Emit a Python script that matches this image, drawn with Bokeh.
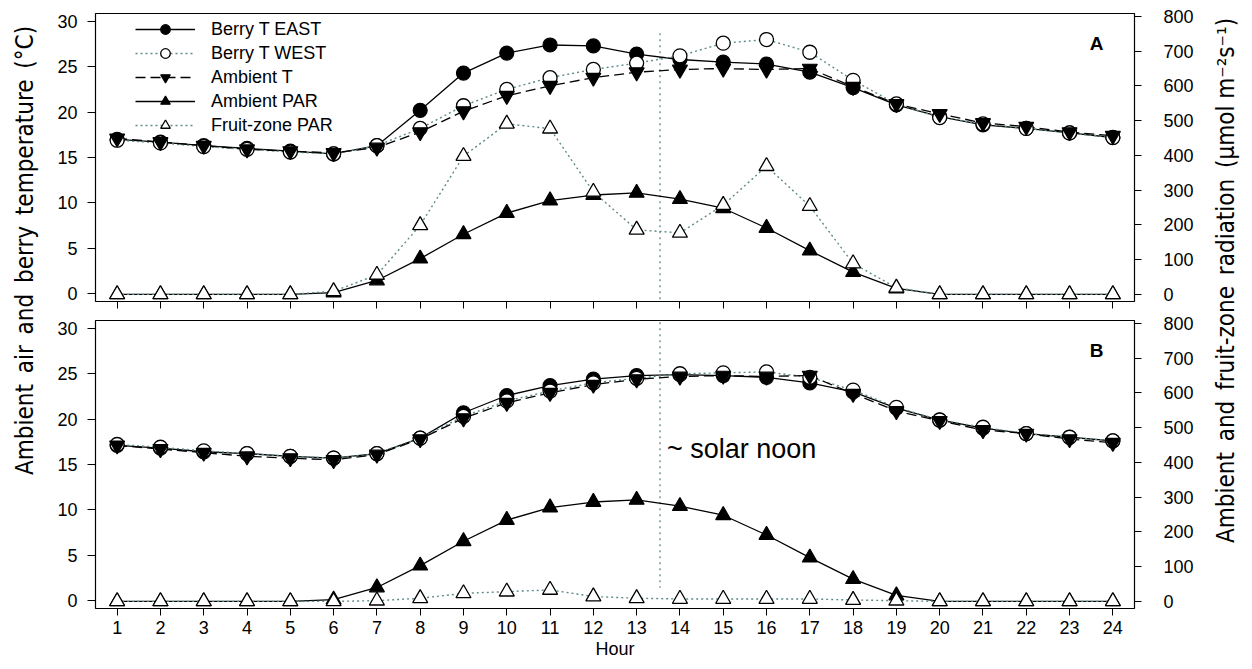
import math
from bokeh.plotting import figure
from bokeh.models import (Range1d, LinearAxis, FixedTicker, Legend, LegendItem, Label,
                          CustomLabelingPolicy)
from bokeh.layouts import row, column
from bokeh.embed import file_html
from bokeh.resources import INLINE

# ---------------- data ----------------
hours = list(range(1, 25))

# Panel A
a_east_t = [17.0, 16.7, 16.3, 16.0, 15.7, 15.4, 16.3, 20.2, 24.3, 26.5, 27.4, 27.3, 26.4, 25.8,
            25.5, 25.3, 24.4, 22.7, 20.8, 19.5, 18.6, 18.2, 17.7, 17.2]
a_west_t = [16.9, 16.6, 16.2, 15.9, 15.6, 15.4, 16.3, 18.2, 20.7, 22.5, 23.8, 24.7, 25.4, 26.2,
            27.6, 28.0, 26.6, 23.5, 20.9, 19.4, 18.7, 18.2, 17.7, 17.2]
ambient_t = [17.1, 16.7, 16.3, 15.9, 15.7, 15.5, 16.1, 17.8, 20.1, 21.8, 22.9, 23.8, 24.4, 24.7,
             24.8, 24.7, 24.8, 22.8, 20.9, 19.8, 18.8, 18.4, 17.8, 17.4]
ambient_par = [0, 0, 0, 0, 0, 5, 40, 103, 173, 234, 270, 286, 292, 274, 248, 191, 126, 64, 17,
               0, 0, 0, 0, 0]
a_fruit_par = [0, 0, 0, 0, 0, 9, 56, 199, 398, 491, 477, 295, 186, 177, 257, 369, 254, 89, 19,
               0, 0, 0, 0, 0]

# Panel B
b_east_t = [17.1, 16.8, 16.4, 16.2, 15.9, 15.7, 16.2, 17.9, 20.7, 22.6, 23.7, 24.4, 24.8, 24.9,
            24.8, 24.6, 24.0, 23.0, 21.2, 19.9, 19.0, 18.4, 18.0, 17.6]
b_west_t = [17.2, 16.9, 16.5, 16.2, 15.9, 15.7, 16.2, 17.9, 20.3, 22.0, 23.1, 24.0, 24.5, 25.0,
            25.1, 25.2, 24.6, 23.2, 21.3, 19.9, 19.1, 18.4, 18.0, 17.6]
b_fruit_par = [0, 0, 0, 0, 0, 0, 2, 9, 23, 28, 33, 14, 9, 7, 7, 7, 7, 4, 2, 0, 0, 0, 0, 0]

temp_ticks = [0, 5, 10, 15, 20, 25, 30]
par_ticks = [0, 100, 200, 300, 400, 500, 600, 700, 800]
solar_noon_hour = 13.54

series_labels = ["Berry T EAST", "Berry T WEST", "Ambient T", "Ambient PAR", "Fruit-zone PAR"]

# ---------------- styling ----------------
FONT = "Liberation Sans"
NARROW = "DejaVu Sans Condensed, Liberation Sans"
TEAL = "#5f8a8a"
INK = "black"
PANEL_W = 1152
LABEL_W_L = 48
LABEL_W_R = 52
TOTAL_H = 669


def make_panel(east, west, amb_t, amb_par, fruit_par, letter, height, top, bottom,
               show_x_labels, with_legend, noon_y):
    p = figure(width=PANEL_W, height=height, output_backend="svg", toolbar_location=None,
               x_range=Range1d(0.5, 24.5), y_range=Range1d(-0.88, 30.87),
               min_border_left=47, min_border_right=66, min_border_top=top,
               min_border_bottom=bottom)
    p.extra_y_ranges = {"par": Range1d(-20.5, 808.5)}
    p.grid.visible = False
    p.outline_line_color = INK
    p.outline_line_width = 1.2
    p.background_fill_color = "white"
    p.border_fill_color = "white"

    # x axis
    xa = p.xaxis[0]
    xa.ticker = FixedTicker(ticks=hours)
    xa.axis_line_color = None
    xa.major_tick_in = 0
    xa.major_tick_out = 7
    xa.minor_tick_line_color = None
    xa.major_tick_line_color = INK
    if show_x_labels:
        xa.major_label_text_font = FONT
        xa.major_label_text_font_size = "18px"
        xa.major_label_text_color = INK
        xa.major_label_standoff = 5
        xa.axis_label = "Hour"
        xa.axis_label_text_font = FONT
        xa.axis_label_text_font_size = "18px"
        xa.axis_label_text_color = INK
        xa.axis_label_text_font_style = "normal"
        xa.axis_label_standoff = 2
    else:
        xa.major_label_text_font_size = "0px"
        xa.major_label_standoff = 0
        xa.major_label_policy = CustomLabelingPolicy(
            code="for (const i of indices) indices.unset(i)")

    # left axis
    ya = p.yaxis[0]
    ya.ticker = FixedTicker(ticks=temp_ticks)
    ya.axis_line_color = None
    ya.major_tick_in = 0
    ya.major_tick_out = 8
    ya.minor_tick_line_color = None
    ya.major_tick_line_color = INK
    ya.major_label_text_font = FONT
    ya.major_label_text_font_size = "18px"
    ya.major_label_text_color = INK
    ya.major_label_standoff = 10

    # right axis
    ra = LinearAxis(y_range_name="par", ticker=FixedTicker(ticks=par_ticks))
    ra.axis_line_color = None
    ra.major_tick_in = 0
    ra.major_tick_out = 7
    ra.minor_tick_line_color = None
    ra.major_tick_line_color = INK
    ra.major_label_text_font = FONT
    ra.major_label_text_font_size = "18px"
    ra.major_label_text_color = INK
    ra.major_label_standoff = 22
    p.add_layout(ra, "right")

    # solar noon line
    p.segment(x0=[solar_noon_hour], y0=[noon_y[0]], x1=[solar_noon_hour], y1=[noon_y[1]],
              line_color=TEAL, line_width=1.3, line_dash="2 4")

    # lines
    l_east = p.line(hours, east, line_color=INK, line_width=1.3)
    l_west = p.line(hours, west, line_color=TEAL, line_width=1.4, line_dash="2 3")
    l_amb = p.line(hours, amb_t, line_color=INK, line_width=1.3, line_dash="10 5")
    l_apar = p.line(hours, amb_par, y_range_name="par", line_color=INK, line_width=1.3)
    l_fpar = p.line(hours, fruit_par, y_range_name="par", line_color=TEAL, line_width=1.4,
                    line_dash="2 3")

    # markers
    m_east = p.scatter(hours, east, marker="circle", size=14, fill_color=INK,
                       line_color=INK, line_width=1.2)
    m_west = p.scatter(hours, west, marker="circle", size=14, fill_color="white",
                       line_color=INK, line_width=1.3)
    m_amb = p.scatter(hours, amb_t, marker="inverted_triangle", size=15, fill_color=INK,
                      line_color=INK, line_width=1.2)
    m_apar = p.scatter(hours, amb_par, y_range_name="par", marker="triangle", size=15,
                       fill_color=INK, line_color=INK, line_width=1.2)
    m_fpar = p.scatter(hours, fruit_par, y_range_name="par", marker="triangle", size=15,
                       fill_color="white", line_color=INK, line_width=1.3)

    if with_legend:
        items = [LegendItem(label=series_labels[0], renderers=[l_east, m_east]),
                 LegendItem(label=series_labels[1], renderers=[l_west, m_west]),
                 LegendItem(label=series_labels[2], renderers=[l_amb, m_amb]),
                 LegendItem(label=series_labels[3], renderers=[l_apar, m_apar]),
                 LegendItem(label=series_labels[4], renderers=[l_fpar, m_fpar])]
        leg = Legend(items=items, location=(40, 164), padding=5, spacing=0,
                     label_height=24, glyph_height=24, glyph_width=60, label_standoff=16,
                     label_text_font=FONT, label_text_font_size="18px",
                     label_text_color=INK,
                     background_fill_alpha=0, border_line_color=None)
        p.add_layout(leg, "center")

    p.add_layout(Label(x=1001, y=288 - 30, x_units="screen", y_units="screen",
                       text=letter, text_font=FONT, text_font_size="19px",
                       text_color=INK, text_font_style="bold", text_align="center",
                       text_baseline="middle"))
    return p


pa = make_panel(a_east_t, a_west_t, ambient_t, ambient_par, a_fruit_par, "A",
                height=311, top=13, bottom=10, show_x_labels=False, with_legend=True,
                noon_y=(28.7, -2.0))
pb = make_panel(b_east_t, b_west_t, ambient_t, ambient_par, b_fruit_par, "B",
                height=358, top=9, bottom=61, show_x_labels=True, with_legend=False,
                noon_y=(32.0, 1.4))

pb.add_layout(Label(x=13.7, y=16.7, text="~ solar noon", text_font=FONT, text_color=INK,
                    text_font_size="27px", text_align="left", text_baseline="middle"))


def label_fig(w, text, cx, cy, size):
    f = figure(width=w, height=TOTAL_H, output_backend="svg", toolbar_location=None,
               x_range=Range1d(0, w), y_range=Range1d(0, TOTAL_H), min_border=0,
               x_axis_location=None, y_axis_location=None)
    f.grid.visible = False
    f.outline_line_color = None
    f.add_layout(Label(x=cx, y=cy, text=text, angle=math.pi / 2, text_align="center",
                       text_baseline="middle", text_font=NARROW, text_font_size=size,
                       text_color=INK))
    return f


SP = "\u2002"
left_title = SP.join(["Ambient", "air", "and", "berry", "temperature", "(\u00b0C)"])
right_title = SP.join(["Ambient", "and", "fruit-zone", "radiation",
                       "(\u00b5mol m\u207b\u00b2s\u207b\u00b9)"])

lf = label_fig(LABEL_W_L, left_title, 24, TOTAL_H - 250, "24px")
rf = label_fig(LABEL_W_R, right_title, 25, TOTAL_H - 280, "24px")

layout = row(lf, column(pa, pb), rf)

open("out.html", "w").write(file_html(layout, INLINE))
